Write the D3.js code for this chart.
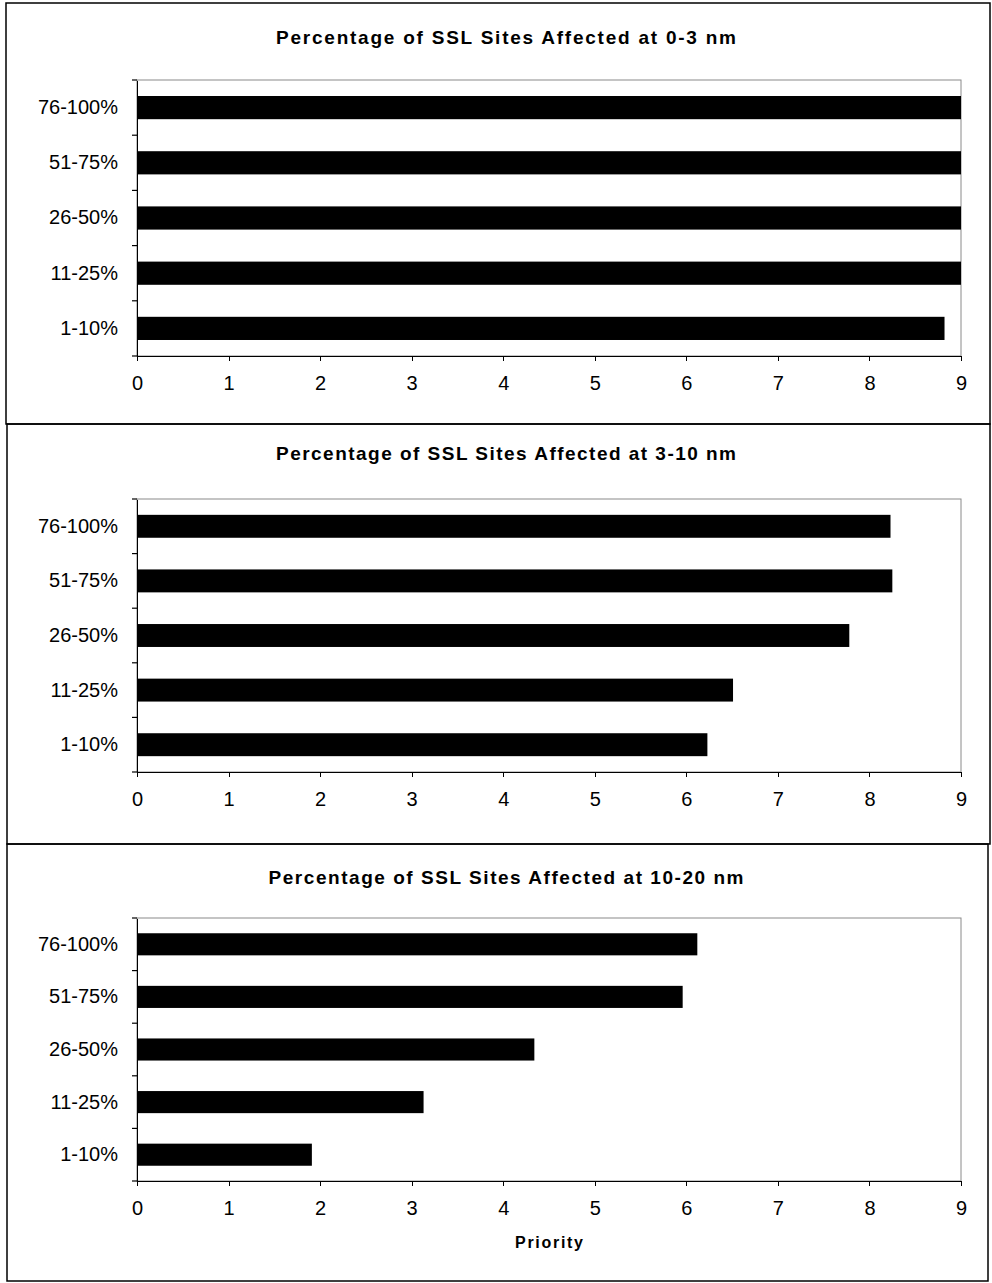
<!DOCTYPE html>
<html lang="en">
<head>
<meta charset="UTF-8">
<title>Percentage of SSL Sites Affected</title>
<script src="https://d3js.org/d3.v7.min.js"></script>
<style>
    body { margin: 0; background: #fff; }
    svg { display: block; font-family: "Liberation Sans", Arial, sans-serif; }
    .title { font-size: 19px; font-weight: bold; text-anchor: middle; }
    .axis text { font-size: 20px; fill: #000; }
    .axis path, .axis line { stroke: #000; shape-rendering: crispEdges; }
    .x-label { font-size: 16px; font-weight: bold; text-anchor: middle; }
</style>
</head>
<body>
<div id="chart"></div>
<script>
    // 数据
    const categories = ["1-10%", "11-25%", "26-50%", "51-75%", "76-100%"];
    const values0to3 = [8.82, 9, 9, 9, 9];
    const values3to10 = [6.23, 6.51, 7.78, 8.25, 8.23];
    const values10to20 = [1.91, 3.13, 4.34, 5.96, 6.12];
    const xTicks = [0, 1, 2, 3, 4, 5, 6, 7, 8, 9];
    const titles = [
        "Percentage of SSL Sites Affected at 0-3 nm",
        "Percentage of SSL Sites Affected at 3-10 nm",
        "Percentage of SSL Sites Affected at 10-20 nm"
    ];
    const xAxisTitle = "Priority";

    // 每个面板的布局
    const panels = [
        { values: values0to3, title: titles[0], box: [6, 3, 990, 424], plotTop: 80, axisY: 356, titleY: 44, titleLen: 460 },
        { values: values3to10, title: titles[1], box: [7, 424, 990, 844], plotTop: 499, axisY: 772, titleY: 460, titleLen: 460 },
        { values: values10to20, title: titles[2], box: [7, 844, 988, 1281], plotTop: 918, axisY: 1181, titleY: 884, titleLen: 475, xTitle: xAxisTitle }
    ];

    const svg = d3.select("#chart").append("svg")
        .attr("width", 992)
        .attr("height", 1283);

    const x = d3.scaleLinear().domain([0, 9]).range([137, 961]);

    panels.forEach(p => {
        const g = svg.append("g");
        const [x0, y0, x1, y1] = p.box;

        // 外框
        g.append("rect")
            .attr("x", x0).attr("y", y0)
            .attr("width", x1 - x0).attr("height", y1 - y0)
            .attr("fill", "none")
            .attr("stroke", "#000")
            .attr("stroke-width", 1.5);

        // 标题
        g.append("text")
            .attr("class", "title")
            .attr("x", 506)
            .attr("y", p.titleY)
            .attr("textLength", p.titleLen)
            .attr("lengthAdjust", "spacing")
            .text(p.title);

        const y = d3.scaleBand()
            .domain(categories.slice().reverse())
            .range([p.plotTop, p.axisY])
            .paddingInner(0.58)
            .paddingOuter(0.29);

        // 绘图区边框（灰色）
        g.append("rect")
            .attr("x", x(0)).attr("y", p.plotTop)
            .attr("width", x(9) - x(0)).attr("height", p.axisY - p.plotTop)
            .attr("fill", "none")
            .attr("stroke", "#8a8a8a")
            .attr("stroke-width", 1);

        // 柱子
        g.selectAll(".bar")
            .data(categories)
            .join("rect")
            .attr("class", "bar")
            .attr("x", x(0))
            .attr("y", d => y(d))
            .attr("width", (d, i) => x(p.values[i]) - x(0))
            .attr("height", y.bandwidth())
            .attr("fill", "#000");

        // x 轴
        g.append("g")
            .attr("class", "axis")
            .attr("transform", `translate(0, ${p.axisY})`)
            .call(d3.axisBottom(x).tickValues(xTicks).tickSizeOuter(0).tickSize(5).tickPadding(15))
            .call(a => a.select(".domain").attr("stroke-width", 1.5));

        // y 轴
        g.append("g")
            .attr("class", "axis")
            .attr("transform", `translate(${x(0)}, 0)`)
            .call(d3.axisLeft(y).tickSize(0).tickPadding(19))
            .call(a => a.select(".domain").attr("stroke-width", 1.5));

        // 类别分隔刻度
        const step = y.step();
        const bounds = d3.range(categories.length + 1).map(i => p.plotTop + i * step);
        g.selectAll(".ytick")
            .data(bounds)
            .join("line")
            .attr("x1", x(0) - 5).attr("x2", x(0))
            .attr("y1", d => d).attr("y2", d => d)
            .attr("stroke", "#000")
            .attr("stroke-width", 1.2);

        if (p.xTitle) {
            g.append("text")
                .attr("class", "x-label")
                .attr("x", (x(0) + x(9)) / 2)
                .attr("y", p.axisY + 67)
                .attr("textLength", 68)
                .attr("lengthAdjust", "spacing")
                .text(p.xTitle);
        }
    });
</script>
</body>
</html>
